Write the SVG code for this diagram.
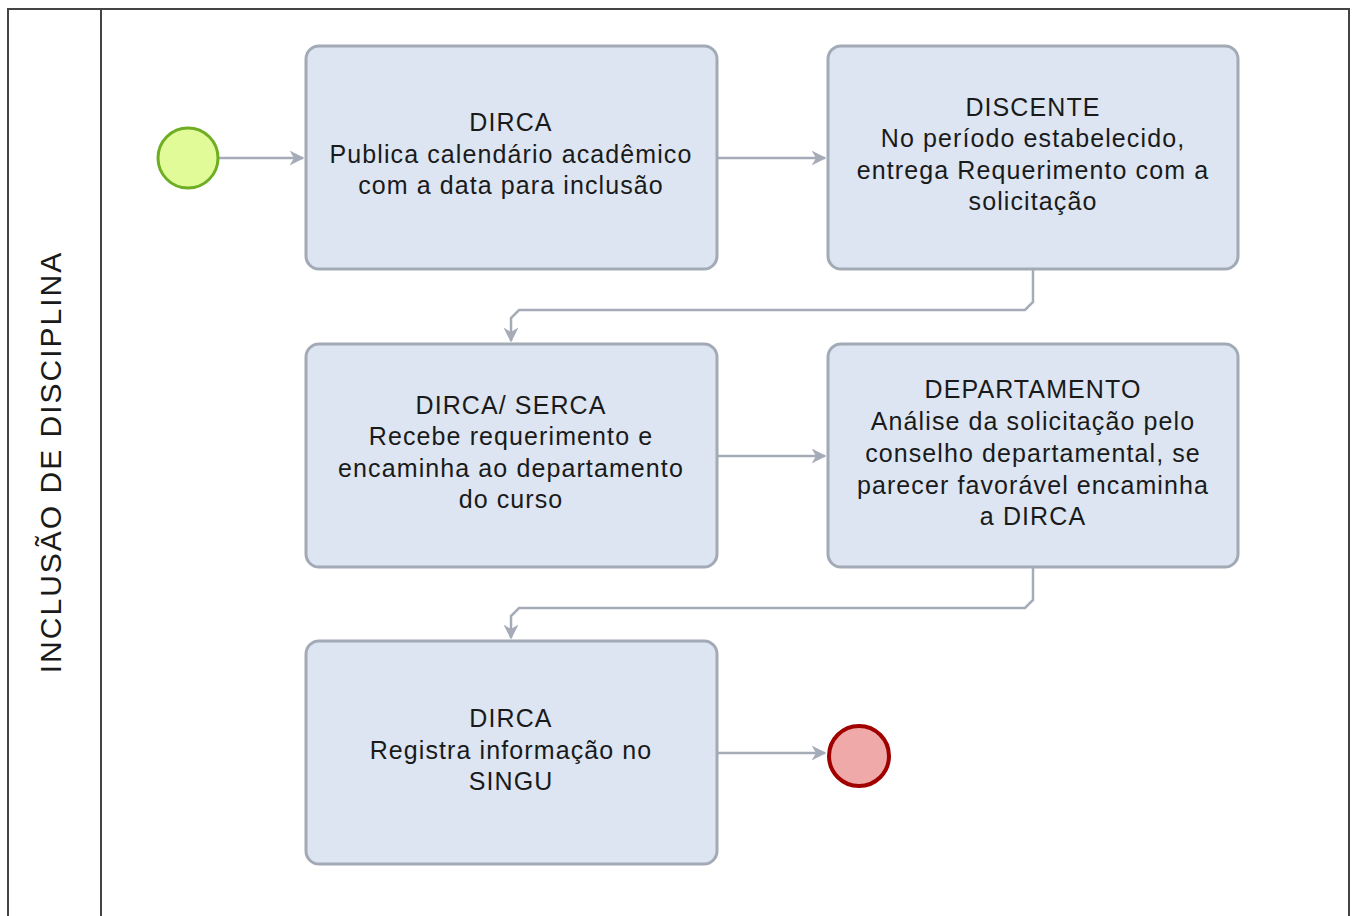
<svg xmlns="http://www.w3.org/2000/svg" width="1352" height="916" viewBox="0 0 1352 916">
<defs>
<style>
.frame{fill:none;stroke:#444;stroke-width:2}
.task{fill:#dce5f1;stroke:#a2aab6;stroke-width:3}
.t{font-family:"Liberation Sans",Arial,sans-serif;font-size:25px;letter-spacing:1.1px;fill:#1a1a1a;text-anchor:middle}
.lane{font-family:"Liberation Sans",Arial,sans-serif;font-size:30px;letter-spacing:2px;fill:#1a1a1a;text-anchor:middle}
.c{fill:none;stroke:#a5acb8;stroke-width:2.5}
</style>
<marker id="ah" viewBox="0 0 10 10" refX="9" refY="5" markerWidth="6" markerHeight="6" markerUnits="strokeWidth" orient="auto">
<path d="M0,0 L10,5 L0,10 L3,5 Z" fill="#a5acb8"/>
</marker>
</defs>
<rect width="1352" height="916" fill="#fff"/>
<g id="pool">
<path class="frame" d="M8,930 V9 H1349 V930 M101,9 V930"/>
<text class="lane" transform="translate(61,462) rotate(-90)">INCLUSÃO DE DISCIPLINA</text>
</g>
<g id="connectors">
<path class="c" d="M219,158 H303" marker-end="url(#ah)"/>
<path class="c" d="M717,158 H825" marker-end="url(#ah)"/>
<path class="c" d="M1033,269 V302 L1025,310 H519 L511,318 V341" marker-end="url(#ah)"/>
<path class="c" d="M717,456 H825" marker-end="url(#ah)"/>
<path class="c" d="M1033,567 V600 L1025,608 H519 L511,616 V638" marker-end="url(#ah)"/>
<path class="c" d="M717,753 H825" marker-end="url(#ah)"/>
</g>
<g id="start">
<circle cx="188" cy="158" r="30" fill="#e2fb99" stroke="#6fae22" stroke-width="3"/>
</g>
<g id="task1">
<rect class="task" x="306" y="46" width="411" height="223" rx="13"/>
<text class="t" x="511" y="131">DIRCA</text>
<text class="t" x="511" y="163">Publica calendário acadêmico</text>
<text class="t" x="511" y="194">com a data para inclusão</text>
</g>
<g id="task2">
<rect class="task" x="828" y="46" width="410" height="223" rx="13"/>
<text class="t" x="1033" y="116">DISCENTE</text>
<text class="t" x="1033" y="147">No período estabelecido,</text>
<text class="t" x="1033" y="179">entrega Requerimento com a</text>
<text class="t" x="1033" y="210">solicitação</text>
</g>
<g id="task3">
<rect class="task" x="306" y="344" width="411" height="223" rx="13"/>
<text class="t" x="511" y="414">DIRCA/ SERCA</text>
<text class="t" x="511" y="445">Recebe requerimento e</text>
<text class="t" x="511" y="477">encaminha ao departamento</text>
<text class="t" x="511" y="508">do curso</text>
</g>
<g id="task4">
<rect class="task" x="828" y="344" width="410" height="223" rx="13"/>
<text class="t" x="1033" y="398">DEPARTAMENTO</text>
<text class="t" x="1033" y="430">Análise da solicitação pelo</text>
<text class="t" x="1033" y="462">conselho departamental, se</text>
<text class="t" x="1033" y="494">parecer favorável encaminha</text>
<text class="t" x="1033" y="525">a DIRCA</text>
</g>
<g id="task5">
<rect class="task" x="306" y="641" width="411" height="223" rx="13"/>
<text class="t" x="511" y="727">DIRCA</text>
<text class="t" x="511" y="759">Registra informação no</text>
<text class="t" x="511" y="790">SINGU</text>
</g>
<g id="end">
<circle cx="859" cy="756" r="30" fill="#f0a9a9" stroke="#a00000" stroke-width="4"/>
</g>
</svg>
